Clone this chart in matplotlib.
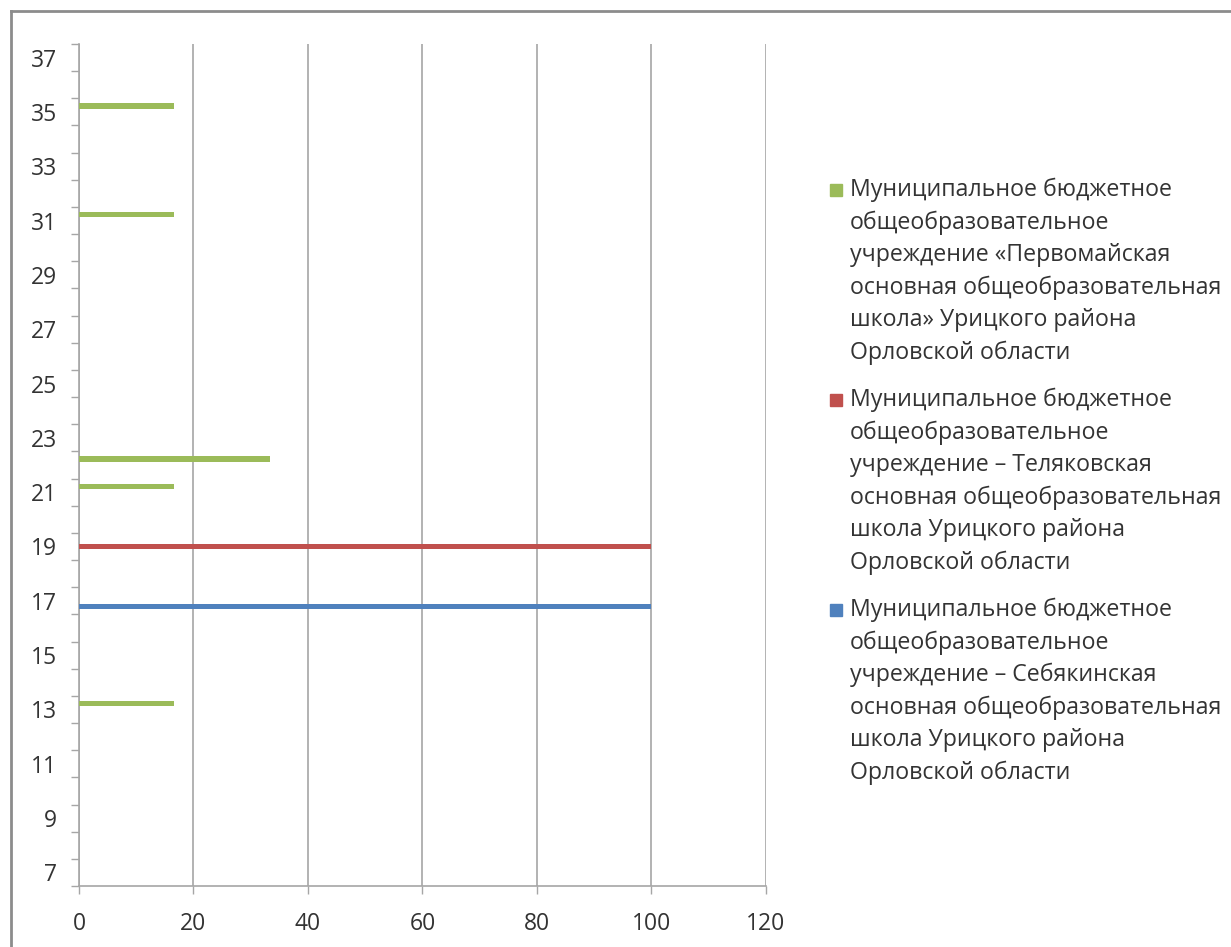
import matplotlib
matplotlib.use("Agg")
import matplotlib.pyplot as plt
from matplotlib.lines import Line2D
from matplotlib.patches import Rectangle
import numpy as np

plt.rcParams['font.family'] = ['Open Sans', 'DejaVu Sans']

categories = list(range(7, 38))
# series values per category 7..37
blue_vals = [0, 0, 0, 0, 0, 0, 0, 0, 0, 0, 100, 0, 0, 0, 0, 0,
             0, 0, 0, 0, 0, 0, 0, 0, 0, 0, 0, 0, 0, 0, 0]
red_vals = [0, 0, 0, 0, 0, 0, 0, 0, 0, 0, 0, 0, 100, 0, 0, 0,
            0, 0, 0, 0, 0, 0, 0, 0, 0, 0, 0, 0, 0, 0, 0]
green_vals = [0, 0, 0, 0, 0, 0, 16.67, 0, 0, 0, 0, 0, 0, 0, 16.67, 33.33,
              0, 0, 0, 0, 0, 0, 0, 0, 16.67, 0, 0, 0, 16.67, 0, 0]
ytick_labels = [str(v) for v in range(7, 38, 2)]
xticks = [0, 20, 40, 60, 80, 100, 120]

legend_green = ["Муниципальное бюджетное", "общеобразовательное",
                "учреждение «Первомайская", "основная общеобразовательная",
                "школа» Урицкого района", "Орловской области"]
legend_red = ["Муниципальное бюджетное", "общеобразовательное",
              "учреждение – Теляковская", "основная общеобразовательная",
              "школа Урицкого района", "Орловской области"]
legend_blue = ["Муниципальное бюджетное", "общеобразовательное",
               "учреждение – Себякинская", "основная общеобразовательная",
               "школа Урицкого района", "Орловской области"]

C_BLUE = "#4F81BD"
C_RED = "#C0504D"
C_GREEN = "#9BBB59"
GRID = "#A6A6A6"
TXT = "#333333"

W, H = 1231, 947
fig = plt.figure(figsize=(W / 100, H / 100), dpi=100)
ax = fig.add_axes([79 / W, (H - 886) / H, (766 - 79) / W, (886 - 44) / H])

y = np.array(categories, dtype=float)
bh = 0.2
off = 0.215
ax.barh(y - off, blue_vals, height=bh, color=C_BLUE, zorder=3)
ax.barh(y, red_vals, height=bh, color=C_RED, zorder=3)
ax.barh(y + off, green_vals, height=bh, color=C_GREEN, zorder=3)

ax.set_xlim(0, 120)
ax.set_ylim(6.5, 37.5)
ax.set_xticks(xticks)
ax.set_xticklabels([str(v) for v in xticks])
ax.set_yticks(list(range(7, 38, 2)))
ax.set_yticklabels(ytick_labels)
ax.set_yticks(np.arange(6.5, 38.0, 1.0), minor=True)

ax.tick_params(axis='y', which='major', length=0, pad=16, labelsize=16.5, labelcolor=TXT)
ax.tick_params(axis='y', which='minor', length=6, width=1, color=GRID, direction='out')
ax.tick_params(axis='x', which='major', length=5.5, width=1, color=GRID, pad=13,
               labelsize=16.5, labelcolor=TXT)

for s in ['top', 'right']:
    ax.spines[s].set_visible(False)
for s in ['left', 'bottom']:
    ax.spines[s].set_color(GRID)
    ax.spines[s].set_linewidth(1.2)
ax.xaxis.grid(True, color=GRID, linewidth=1.2, zorder=0)
ax.set_axisbelow(True)

# legend (manual)
entries = [(C_GREEN, legend_green, 190), (C_RED, legend_red, 400), (C_BLUE, legend_blue, 610)]
step = 32.5
for col, lines, y0 in entries:
    fig.patches.append(Rectangle((830 / W, (H - y0 - 6) / H), 12 / W, 12 / H,
                                 transform=fig.transFigure, color=col, figure=fig))
    for i, ln in enumerate(lines):
        fig.text(850 / W, (H - (y0 + i * step)) / H, ln, fontsize=16.7, color=TXT,
                 ha='left', va='center')

# chart border
fig.add_artist(Line2D([11 / W, 11 / W], [0, (H - 11) / H], color="#8c8c8c", lw=2,
                      transform=fig.transFigure))
fig.add_artist(Line2D([11 / W, 1], [(H - 11) / H, (H - 11) / H], color="#8c8c8c", lw=2,
                      transform=fig.transFigure))

fig.savefig("out.png", dpi=100)
